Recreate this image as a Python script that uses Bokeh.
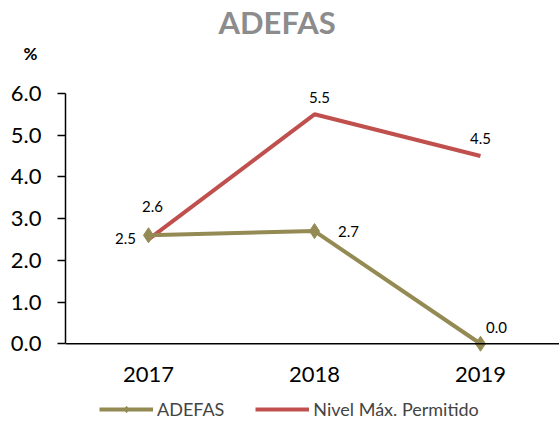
from bokeh.plotting import figure
from bokeh.models import Title, Legend, LegendItem, ColumnDataSource, FixedTicker, Span
from bokeh.core.properties import value
from bokeh.embed import file_html
from bokeh.resources import INLINE

years = [2017, 2018, 2019]
year_labels = ["2017", "2018", "2019"]
adefas = [2.6, 2.7, 0.0]
nivel = [2.5, 5.5, 4.5]
y_ticks = [0, 1, 2, 3, 4, 5, 6]

OLIVE = "#948A54"
RED = "#C0504D"
FONT = "Lato"

p = figure(width=559, height=423, output_backend="svg", toolbar_location=None,
           x_range=(2016.5, 2019.476), y_range=(-1.912, 6.19),
           x_axis_location=None,
           min_border_left=65, min_border_right=0, min_border_top=84, min_border_bottom=0)
p.outline_line_color = None
p.grid.grid_line_color = None
p.background_fill_color = "white"

# x axis line at zero
p.add_layout(Span(location=0, dimension="width", line_color="black", line_width=1.5))

r_n = p.line(years, nivel, line_color=RED, line_width=4)
r_a = p.line(years, adefas, line_color=OLIVE, line_width=4)
r_am = p.scatter(years, adefas, marker="diamond", size=15, fill_color=OLIVE, line_color=OLIVE)

# x tick labels (years) under the zero line
p.text(x=years, y=[0] * len(years), text=year_labels, y_offset=31,
       text_font=value(FONT), text_font_size="22px", text_color="black",
       text_align="center", text_baseline="middle")

# data labels
src_a = ColumnDataSource(dict(x=years, y=adefas, t=[f"{v:.1f}" for v in adefas],
                              dx=[4, 34, 16], dy=[-29, 0, -16]))
src_n = ColumnDataSource(dict(x=years, y=nivel, t=[f"{v:.1f}" for v in nivel],
                              dx=[-23, 5, 0], dy=[-1, -17, -18]))
for s in (src_a, src_n):
    p.text(x="x", y="y", text="t", source=s, x_offset="dx", y_offset="dy",
           text_font=value(FONT), text_font_size="15px", text_color="black",
           text_align="center", text_baseline="middle")

ya = p.yaxis[0]
ya.ticker = FixedTicker(ticks=y_ticks)
ya.bounds = (0, 6)
ya.major_label_overrides = {t: f"{t:.1f}" for t in y_ticks}
ya.major_tick_out = 8
ya.major_tick_in = 0
ya.minor_tick_line_color = None
ya.axis_line_color = "black"
ya.axis_line_width = 1.5
ya.major_tick_line_width = 1.5
ya.major_label_text_font = FONT
ya.major_label_text_font_size = "22px"
ya.major_label_text_color = "black"
ya.major_label_standoff = 16

# blank spacer between the "%" unit label and the plot area
p.add_layout(Title(text=" ", text_font=FONT, text_font_size="10px", standoff=8), "above")
p.add_layout(Title(text="%", align="left", offset=-42, text_font=FONT,
                   text_font_size="17px", text_font_style="bold", text_color="black",
                   vertical_align="bottom", standoff=0), "above")
p.add_layout(Title(text="ADEFAS", align="left", offset=153, text_font=FONT,
                   text_font_size="31px", text_font_style="bold", text_color="#8C8C8C",
                   vertical_align="bottom", standoff=0), "above")

legend = Legend(items=[LegendItem(label="ADEFAS", renderers=[r_a, r_am]),
                       LegendItem(label="Nivel Máx. Permitido", renderers=[r_n])],
                orientation="horizontal", location=(34, 3),
                label_text_font=FONT, label_text_font_size="18px",
                glyph_width=54, glyph_height=16, label_standoff=4, spacing=31,
                border_line_color=None, background_fill_alpha=0, padding=0, margin=0)
p.add_layout(legend, "center")

open("out.html", "w").write(file_html(p, INLINE))
